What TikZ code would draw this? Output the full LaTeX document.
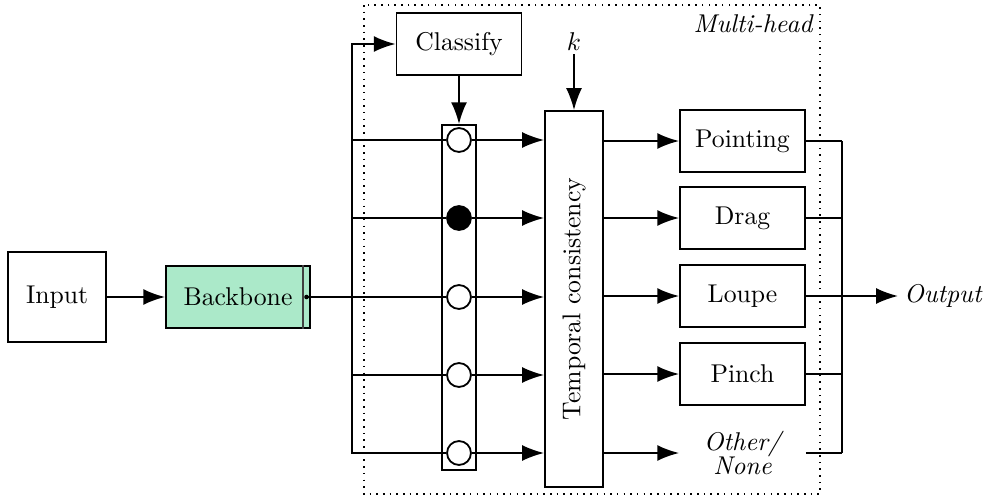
\documentclass[tikz,border=0pt]{standalone}
\usepackage{amsmath}
\usetikzlibrary{arrows.meta,positioning}

\definecolor{bbgreen}{HTML}{ABE9C9}

\tikzset{
    blk/.style = {draw, minimum width=48.6pt, minimum height=24.1pt, inner sep=0pt},
    sw/.style = {circle, draw, fill=white, minimum size=9.3pt, inner sep=0pt},
    arr/.style = {-{Latex[length=8.5pt,width=6.2pt]}}
}

\begin{document}
\begin{tikzpicture}[x = 0.389pt, y = -0.389pt, line width=0.7pt]
    \useasboundingbox (0,0) rectangle (986,499);

    % backbone part
    \node[blk, fill=bbgreen, minimum width=56pt] (bb) at (238,297) {Backbone};
    \node[blk, minimum width=38.1pt, minimum height=35pt, left=22.6pt of bb] (in) {Input};
    \draw[line width=0.5pt, black!75] ([xshift=-3.1pt]bb.north east) -- ([xshift=-3.1pt]bb.south east);
    \fill ([xshift=-1.7pt]bb.east) circle (0.9pt);
    \coordinate (bbdot) at ([xshift=-1.7pt]bb.east);
    \draw[arr] (in) -- (bb);

    % multi-head
    \draw[dotted, line width=0.6pt] (364,5) rectangle (820,494);
    \node[font=\itshape] (mh) at (753,24) {Multi-head};
    \node[blk] (cls) at (459,44) {Classify};
    \node[draw, minimum width=13.2pt, minimum height=134.2pt] (col) at (459,297.5) {};
    \node[draw, rotate=90, minimum width=146.3pt, minimum height=22.6pt] (tc) at (574,299) {Temporal consistency};
    \node[inner sep=1pt] (k) at (574,42) {$k$};
    \coordinate (bus) at (352,297);
    \coordinate (mg) at (842,297);

    \draw[arr] (bus |- col.south) ++(0,-17) -- (bus |- cls) -- (cls.west);
    \draw[arr] (cls) -- (col);
    \draw[arr] (k) -- (tc.east);

    \foreach \i/\y/\f in {1/140/white, 2/218/black, 3/297/white, 4/375/white, 5/453/white} {
        \node[sw, fill=\f] (sw\i) at (459,\y) {};
        \draw (bus |- sw\i) -- (sw\i.west);
        \draw[arr] (sw\i.east) -- (tc.north |- sw\i);
    }
    \draw (bbdot) -- (bus);

    % heads
    \node[blk] (h1) at (742.5,141) {Pointing};
    \node[blk] (h2) at (742.5,218) {Drag};
    \node[blk] (h3) at (742.5,296) {Loupe};
    \node[blk] (h4) at (742.5,374) {Pinch};
    \node[minimum width=48.6pt, inner sep=0pt, align=center, font=\itshape] (h5) at (742.5,453) {Other/\\[-2.5pt]None};

    \foreach \i in {1,...,5} {
        \draw[arr] (tc.south |- h\i) -- (h\i.west);
        \draw (h\i.east) -- (mg |- h\i);
    }
    \draw (mg |- h1) -- (mg |- h5);

    % output
    \node[anchor=west, inner sep=2pt, font=\itshape] (out) at (898,296) {Output};
    \draw[arr] (h3.east) -- (out.west);
\end{tikzpicture}
\end{document}
